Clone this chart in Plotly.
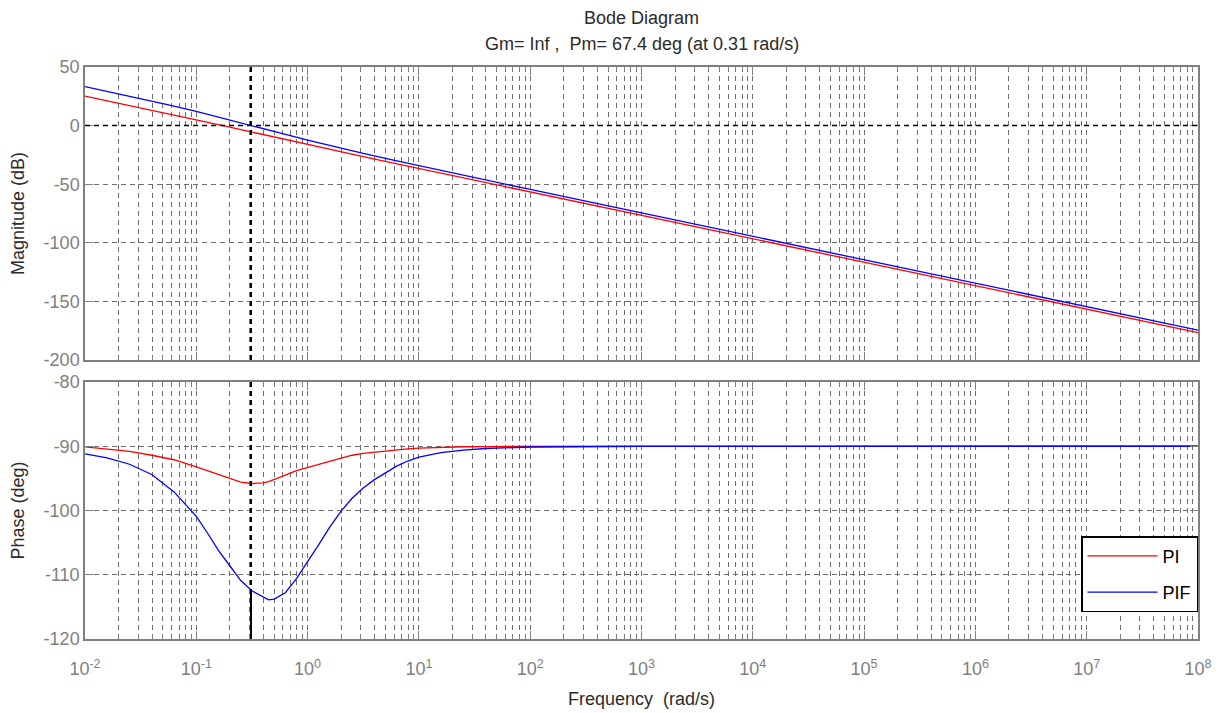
import plotly.graph_objects as go

# ---- Open-loop magnitude response (rad/s, dB) ----
freq_mag = [0.01, 0.0178, 0.0316, 0.0562, 0.1, 0.178, 0.316, 0.562, 1.0,
            1.78, 3.16, 5.62, 10, 31.6, 100, 1e3, 1e4, 1e5, 1e6, 1e7, 1e8]
mag_pi = [25.2, 20.2, 15.2, 10.1, 5.0, -0.2, -5.5, -10.9, -16.2,
          -21.4, -26.5, -31.6, -36.6, -46.6, -56.6, -76.6, -96.6, -116.6,
          -136.6, -156.6, -176.6]
mag_pif = [33.3, 28.2, 23.0, 17.7, 12.2, 6.2, -0.1, -6.3, -12.5,
           -18.3, -23.8, -29.1, -34.3, -44.4, -54.5, -74.5, -94.5, -114.5,
           -134.5, -154.5, -174.5]

# ---- Open-loop phase response (rad/s, deg) ----
freq_phase = [0.01, 0.0158, 0.0251, 0.0398, 0.0631, 0.1, 0.126, 0.158, 0.2,
              0.251, 0.316, 0.398, 0.447, 0.501, 0.631, 0.794, 1.0, 1.26,
              1.58, 2.0, 2.51, 3.16, 3.98, 5.01, 6.31, 7.94, 10, 15.8, 25.1,
              39.8, 63.1, 100, 1e3, 1e4, 1e5, 1e6, 1e7, 1e8]
phase_pi = [-90.1, -90.4, -90.8, -91.4, -92.1, -93.2, -93.8, -94.4, -95.0,
            -95.6, -95.8, -95.7, -95.5, -95.2, -94.5, -93.8, -93.3, -92.8,
            -92.3, -91.8, -91.4, -91.1, -90.9, -90.7, -90.5, -90.4, -90.3,
            -90.15, -90.08, -90.05, -90.03, -90.02, -90.0, -90.0, -90.0,
            -90.0, -90.0, -90.0]
phase_pif = [-91.2, -91.8, -92.8, -94.4, -97.1, -100.9, -103.5, -106.2,
             -108.6, -110.9, -112.5, -113.5, -113.9, -113.8, -112.8, -110.6,
             -108.0, -105.3, -102.6, -100.1, -98.1, -96.5, -95.2, -94.1,
             -93.1, -92.3, -91.7, -91.0, -90.6, -90.35, -90.2, -90.12,
             -90.01, -90.0, -90.0, -90.0, -90.0, -90.0]

# ---- Stability margins of the PIF loop ----
gain_margin = "Inf"
phase_margin = 67.4      # deg
crossover_freq = 0.31    # rad/s

# ---- Axis ticks ----
x_tick_vals = [1e-2, 1e-1, 1e0, 1e1, 1e2, 1e3, 1e4, 1e5, 1e6, 1e7, 1e8]
x_tick_text = ["10<sup>-2</sup>", "10<sup>-1</sup>", "10<sup>0</sup>",
               "10<sup>1</sup>", "10<sup>2</sup>", "10<sup>3</sup>",
               "10<sup>4</sup>", "10<sup>5</sup>", "10<sup>6</sup>",
               "10<sup>7</sup>", "10<sup>8</sup>"]
mag_ticks = [-200, -150, -100, -50, 0, 50]
phase_ticks = [-120, -110, -100, -90, -80]

RED = "#ff0000"
BLUE = "#0000ff"
GRID = "#6e6e6e"
AXIS = "#808080"
TEXT = "#2b2b2b"
TICK_TEXT = "#808080"
FONT = "Liberation Sans, Arial, sans-serif"
DASH = "5px,4px"

fig = go.Figure()

fig.add_trace(go.Scatter(x=freq_mag, y=mag_pi, mode="lines", name="PI",
                         line=dict(color=RED, width=1.3), showlegend=False,
                         xaxis="x", yaxis="y"))
fig.add_trace(go.Scatter(x=freq_mag, y=mag_pif, mode="lines", name="PIF",
                         line=dict(color=BLUE, width=1.3), showlegend=False,
                         xaxis="x", yaxis="y"))
fig.add_trace(go.Scatter(x=freq_phase, y=phase_pi, mode="lines", name="PI",
                         line=dict(color=RED, width=1.3), legendgroup="a",
                         xaxis="x2", yaxis="y2"))
fig.add_trace(go.Scatter(x=freq_phase, y=phase_pif, mode="lines", name="PIF",
                         line=dict(color=BLUE, width=1.3), legendgroup="b",
                         xaxis="x2", yaxis="y2"))

common_x = dict(
    type="log", range=[-2, 8], showline=True, linecolor=AXIS, linewidth=1.5,
    mirror="ticks", ticks="inside", ticklen=8, tickcolor=AXIS,
    tickvals=x_tick_vals, showgrid=True, gridcolor=GRID, gridwidth=1,
    griddash=DASH, zeroline=False, automargin=False,
    minor=dict(dtick="D1", ticks="inside", ticklen=4, tickcolor=AXIS,
               showgrid=True, gridcolor=GRID, gridwidth=1, griddash=DASH),
)

common_y = dict(
    showline=True, linecolor=AXIS, linewidth=1.5, mirror="ticks",
    ticks="inside", ticklen=8, tickcolor=AXIS, showgrid=True,
    gridcolor=GRID, gridwidth=1, griddash=DASH, zeroline=False,
    automargin=False,
    tickfont=dict(family=FONT, size=18, color=TICK_TEXT),
)

top_domain = [0.4878, 1.0]
bottom_domain = [0.0, 0.4493]

fig.update_layout(
    width=1223, height=713, autosize=False,
    margin=dict(l=85, r=25, t=67, b=74),
    paper_bgcolor="white", plot_bgcolor="white",
    font=dict(family=FONT, size=18, color=TEXT),
    xaxis=dict(common_x, anchor="y", domain=[0, 1], showticklabels=False,
               matches="x2"),
    xaxis2=dict(common_x, anchor="y2", domain=[0, 1], ticktext=x_tick_text,
                ticklabelstandoff=13,
                tickfont=dict(family=FONT, size=18, color=TICK_TEXT),
                title=dict(text="Frequency  (rad/s)", standoff=14,
                           font=dict(family=FONT, size=18, color=TEXT))),
    yaxis=dict(common_y, domain=top_domain, anchor="x", range=[-200, 50],
               tickvals=mag_ticks, ticktext=[str(v) for v in mag_ticks],
               title=dict(text="Magnitude (dB)", standoff=14,
                          font=dict(family=FONT, size=18, color=TEXT))),
    yaxis2=dict(common_y, domain=bottom_domain, anchor="x2",
                range=[-120, -80], tickvals=phase_ticks,
                ticktext=[str(v) for v in phase_ticks],
                title=dict(text="Phase (deg)", standoff=14,
                           font=dict(family=FONT, size=18, color=TEXT))),
    legend=dict(x=1.0, xanchor="right", y=0.047, yanchor="bottom",
                bgcolor="white", bordercolor="black", borderwidth=1.5,
                font=dict(family=FONT, size=18, color="black"),
                tracegroupgap=10, itemwidth=70),
)

# Gain-crossover markers: 0 dB line, crossover frequency, phase margin
phase_at_crossover = -180 + phase_margin
fig.add_shape(type="line", xref="x domain", yref="y", x0=0, x1=1, y0=0, y1=0,
              line=dict(color="black", width=1.5, dash=DASH))
fig.add_shape(type="line", xref="x", yref="y domain", x0=crossover_freq,
              x1=crossover_freq, y0=0, y1=1,
              line=dict(color="black", width=2, dash=DASH))
fig.add_shape(type="line", xref="x2", yref="y2 domain", x0=crossover_freq,
              x1=crossover_freq, y0=0, y1=1,
              line=dict(color="black", width=2, dash=DASH))
fig.add_shape(type="line", xref="x2", yref="y2", x0=crossover_freq,
              x1=crossover_freq, y0=-180, y1=phase_at_crossover,
              line=dict(color="black", width=2))

# Title lines
fig.add_annotation(text="Bode Diagram", xref="paper", yref="paper",
                   x=0.5, y=1.0857, showarrow=False, xanchor="center",
                   yanchor="middle", font=dict(family=FONT, size=18, color=TEXT))
fig.add_annotation(
    text=f"Gm= {gain_margin} ,  Pm= {phase_margin} deg (at {crossover_freq} rad/s)",
    xref="paper", yref="paper", x=0.5, y=1.04, showarrow=False,
    xanchor="center", yanchor="middle",
    font=dict(family=FONT, size=18, color=TEXT))

fig.write_html("out.html")
